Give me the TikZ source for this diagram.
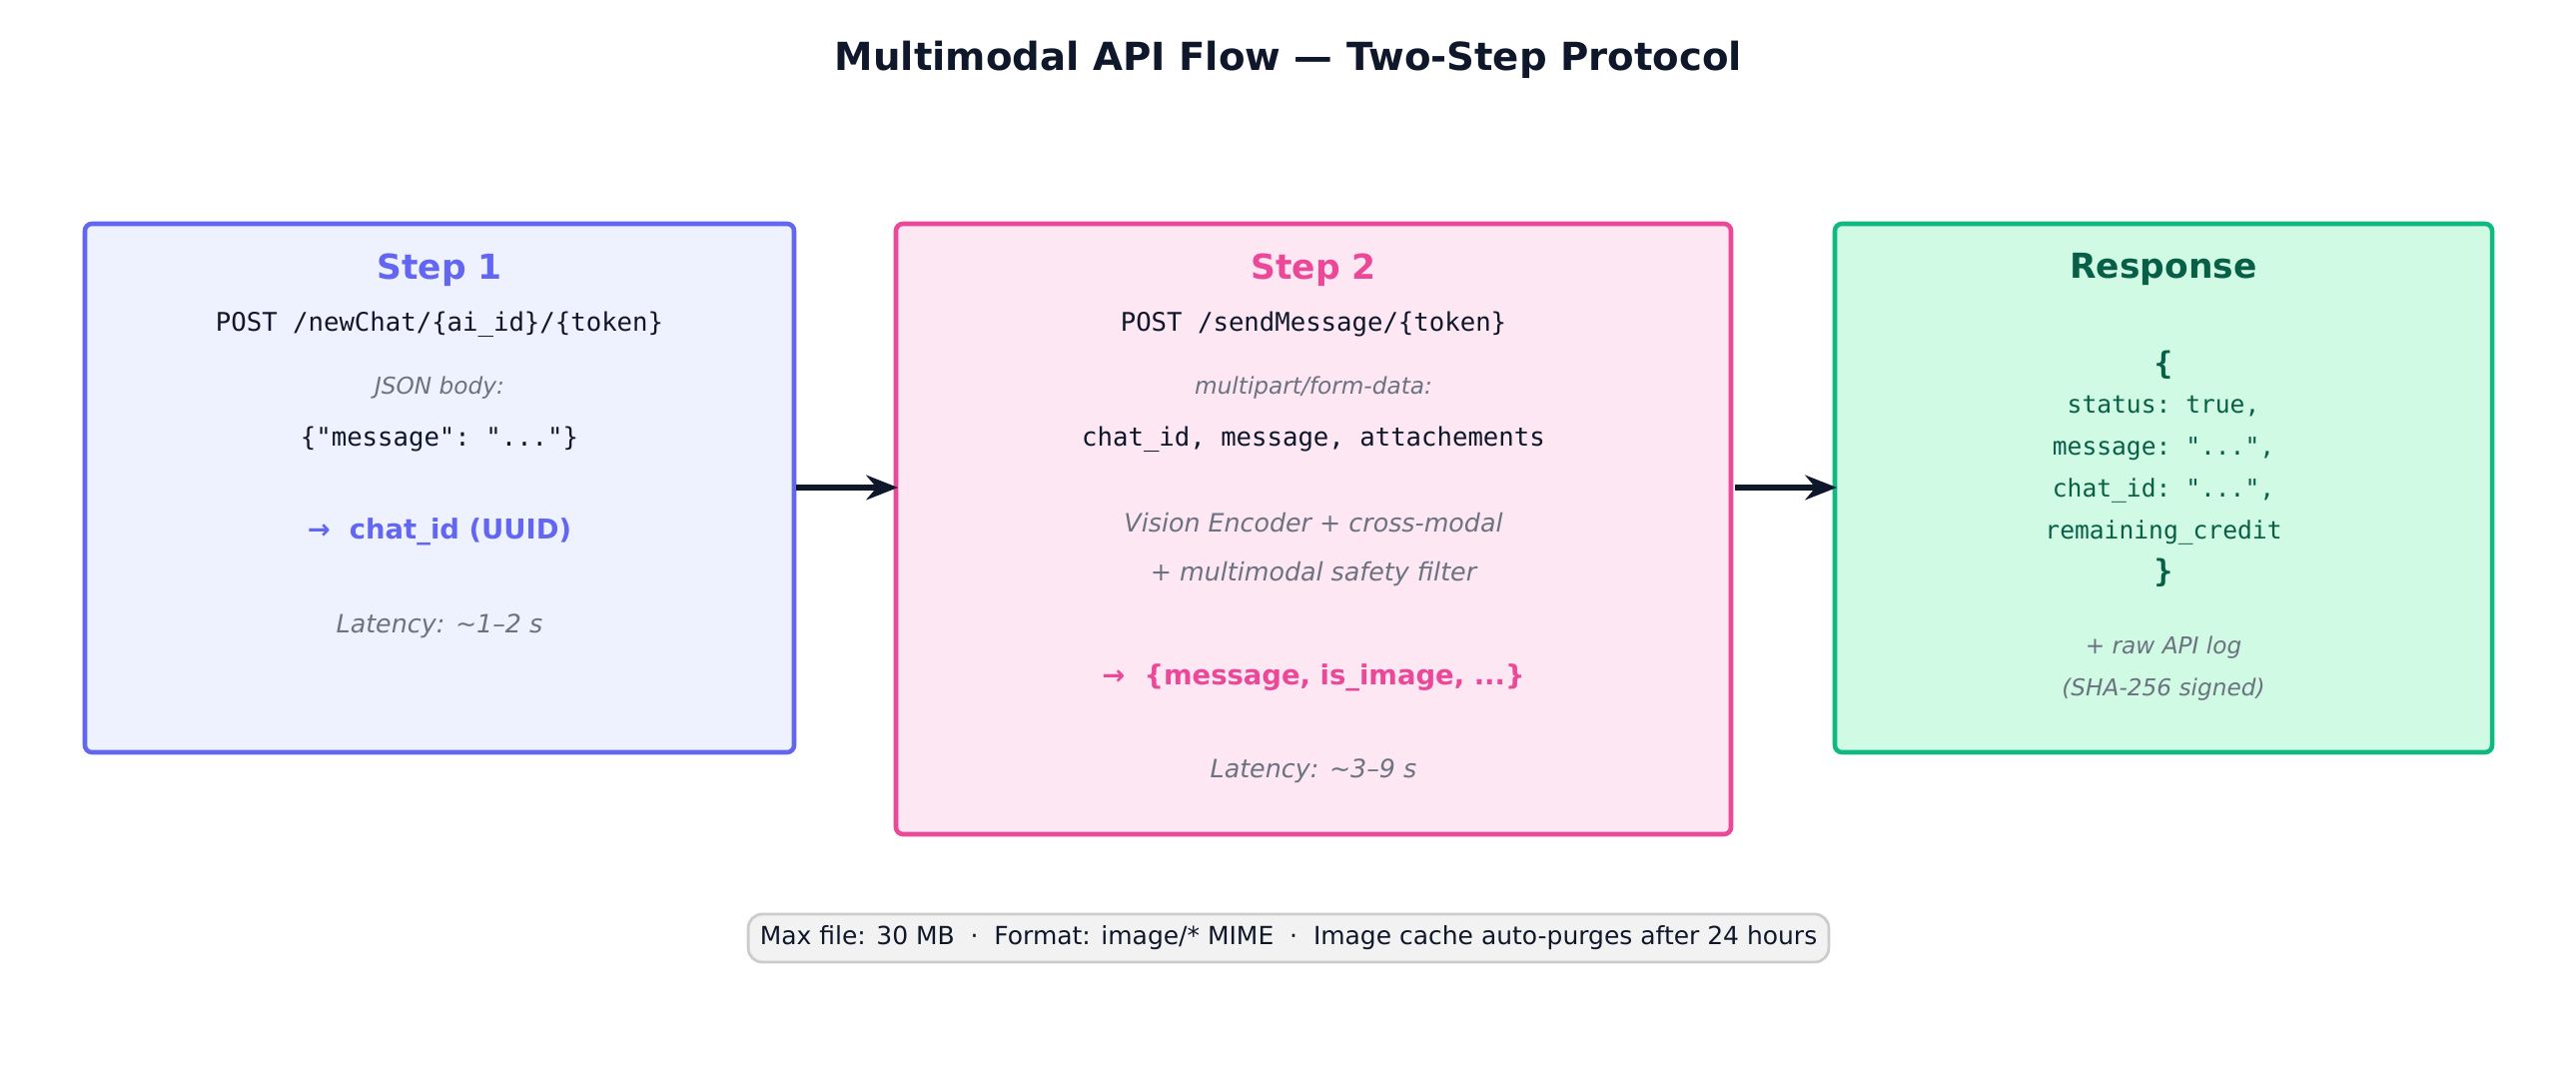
\documentclass[tikz,border=0pt]{standalone}
\usepackage{fontspec}
\setmainfont{DejaVu Sans}
\setmonofont{DejaVu Sans Mono}
\usetikzlibrary{arrows.meta}
\definecolor{ink}{HTML}{0F172A}
\definecolor{bA}{HTML}{6366F1}\definecolor{fA}{HTML}{EEF2FF}
\definecolor{bB}{HTML}{EC4899}\definecolor{fB}{HTML}{FCE7F3}
\definecolor{bC}{HTML}{10B981}\definecolor{fC}{HTML}{D1FAE5}
\definecolor{tC}{HTML}{065F46}
\definecolor{gry}{HTML}{6B7280}
\begin{document}
\begin{tikzpicture}[x=0.01cm,y=-0.01cm,
  box/.style={draw,line width=1.3pt,rounded corners=2pt},
  head/.style={font=\fontsize{9.8}{11}\selectfont\bfseries},
  mono/.style={font=\fontsize{7.3}{9}\selectfont\ttfamily,text=ink},
  note/.style={font=\fontsize{6.6}{8}\selectfont\itshape,text=gry},
  note2/.style={font=\fontsize{7.2}{9}\selectfont\itshape,text=gry},
  res/.style={font=\fontsize{7.8}{9}\selectfont\bfseries},
  cmono/.style={font=\fontsize{7}{9}\selectfont\ttfamily,text=tC},
  arr/.style={-{Stealth[length=9pt,width=7pt]},line width=1.6pt,draw=ink}]
\useasboundingbox (0,0) rectangle (2579,1080);
\node[font=\fontsize{11}{12}\selectfont\bfseries,text=ink] (title) at (1290,60) {Multimodal API Flow — Two-Step Protocol};
\draw[box,draw=bA,fill=fA] (85,224) rectangle (795,753);
\draw[box,draw=bB,fill=fB] (897,224) rectangle (1733,835);
\draw[box,draw=bC,fill=fC] (1837,224) rectangle (2495,753);
\coordinate (a1) at (797,488); \coordinate (a2) at (899,488);
\coordinate (b1) at (1737,488); \coordinate (b2) at (1839,488);
\draw[arr] (a1) -- (a2);
\draw[arr] (b1) -- (b2);
% box 1
\node[head,text=bA] (s1) at (440,270) {Step 1};
\node[mono] (p1) at (440,325) {POST /newChat/\{ai\_id\}/\{token\}};
\node[note] (j1) at (440,388) {JSON body:};
\node[mono] (m1) at (440,440) {\{"message": "..."\}};
\node[res,text=bA] (r1) at (440,532) {→\ \ chat\_id (UUID)};
\node[note2] (l1) at (440,627) {Latency: \textasciitilde1–2 s};
% box 2
\node[head,text=bB] (s2) at (1315,270) {Step 2};
\node[mono] (p2) at (1315,325) {POST /sendMessage/\{token\}};
\node[note] (j2) at (1315,388) {multipart/form-data:};
\node[mono] (m2) at (1315,440) {chat\_id, message, attachements};
\node[note2] (v2) at (1315,523) {Vision Encoder + cross-modal};
\node[note2] (v3) at (1315,575) {+ multimodal safety filter};
\node[res,text=bB] (r2) at (1315,678) {→\ \ \{message, is\_image, ...\}};
\node[note2] (l2) at (1315,772) {Latency: \textasciitilde3–9 s};
% box 3
\node[head,text=tC] (s3) at (2166,270) {Response};
\node[cmono,font=\fontsize{8.8}{10}\selectfont\ttfamily\bfseries] (o3) at (2166,365) {\{};
\node[cmono] (c1) at (2166,407) {status: true,};
\node[cmono] (c2) at (2166,449) {message: "...",};
\node[cmono] (c3) at (2166,491) {chat\_id: "...",};
\node[cmono] (c4) at (2166,533) {remaining\_credit};
\node[cmono,font=\fontsize{8.8}{10}\selectfont\ttfamily\bfseries] (o4) at (2166,573) {\}};
\node[note] (g1) at (2166,648) {+ raw API log};
\node[note] (g2) at (2166,690) {(SHA-256 signed)};
% footer
\node[draw=gray!40,fill=gray!10,rounded corners=4pt,line width=0.8pt,minimum width=10.8cm,minimum height=0.48cm,text=ink,font=\fontsize{7.1}{8}\selectfont] (foot) at (1290,939) {Max file: 30 MB\ \ ·\ \ Format: image/* MIME\ \ ·\ \ Image cache auto-purges after 24 hours};
\end{tikzpicture}
\end{document}
